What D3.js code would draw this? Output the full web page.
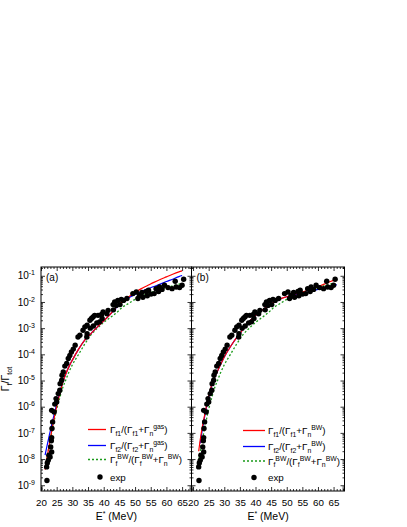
<!DOCTYPE html>
<html><head><meta charset="utf-8">
<script src="https://cdn.jsdelivr.net/npm/d3@7"></script>
<style>body{margin:0;background:#fff} text{font-family:"Liberation Sans",Arial,sans-serif;fill:#000}</style>
</head><body><svg id="c" width="407" height="527"></svg>
<script>
// ---- data ----
const xTickValues = [20,25,30,35,40,45,50,55,60,65];
const yTickExponents = [-9,-8,-7,-6,-5,-4,-3,-2,-1];

// experimental points: [E* (MeV), log10(Gf/Gtot)]
const expData = [[21.9,-8.82],[21.8,-8.3],[22.0,-8.15],[22.3,-8.05],[22.5,-7.85],[22.9,-7.92],[23.4,-7.73],[23.1,-7.54],[23.3,-7.3],[23.4,-7.18],[23.5,-6.83],[23.7,-6.58],[23.4,-6.14],[24.2,-6.2],[24.4,-5.9],[24.8,-5.69],[25.0,-5.82],[25.5,-5.5],[26.0,-5.37],[26.1,-5.12],[26.6,-4.99],[26.7,-4.8],[27.1,-4.67],[27.6,-4.45],[28.2,-4.35],[28.7,-4.16],[29.2,-4.04],[29.7,-3.91],[30.3,-3.8],[30.9,-3.65],[31.8,-3.34],[32.4,-3.27],[33.4,-3.08],[34.0,-2.95],[34.6,-3.34],[34.7,-3.21],[34.7,-2.89],[35.6,-2.7],[35.7,-3.0],[36.1,-2.63],[36.6,-2.57],[36.7,-2.92],[37.1,-2.51],[37.8,-2.8],[38.2,-2.51],[38.7,-2.76],[39.3,-2.48],[39.8,-2.38],[39.5,-2.63],[41.0,-2.45],[41.4,-2.32],[43.0,-2.1],[43.1,-2.3],[43.5,-2.0],[44.0,-2.13],[44.5,-1.94],[45.2,-2.1],[45.6,-1.9],[46.3,-1.94],[47.4,-1.87],[49.3,-1.68],[50.4,-1.62],[50.9,-1.87],[51.4,-1.75],[52.2,-1.64],[52.5,-1.82],[53.6,-1.6],[53.9,-1.76],[54.3,-1.55],[55.1,-1.7],[56.1,-1.68],[56.7,-1.49],[57.5,-1.6],[57.8,-1.43],[58.6,-1.52],[59.4,-1.36],[60.5,-1.45],[61.8,-1.49],[62.8,-1.21],[63.1,-1.43],[64.2,-1.45],[65.0,-1.36],[65.5,-1.13]];

// model curves: [E*, log10 ratio]
const redA = [[21.3,-8.4],[22,-7.9],[23,-7.2],[24,-6.55],[25,-6.0],[26,-5.5],[27,-5.05],[28,-4.72],[29,-4.45],[30,-4.22],[32,-3.8],[34,-3.45],[36,-3.2],[38,-2.95],[40,-2.72],[42,-2.48],[44,-2.2],[46,-1.98],[48,-1.8],[50,-1.63],[52,-1.49],[54,-1.37],[56,-1.25],[58,-1.14],[60,-1.04],[62,-0.94],[64,-0.85],[65,-0.81]];
const blueA = [[21.3,-7.85],[22,-7.45],[23,-6.9],[24,-6.4],[25,-5.9],[26,-5.45],[27,-5.05],[28,-4.72],[29,-4.45],[30,-4.22],[32,-3.8],[34,-3.45],[36,-3.2],[38,-2.95],[40,-2.72],[42,-2.48],[44,-2.22],[46,-2.0],[48,-1.84],[50,-1.71],[52,-1.6],[54,-1.5],[56,-1.41],[58,-1.32],[60,-1.22],[62,-1.13],[64,-1.03],[65,-0.99]];
const greenBW = [[21.5,-8.3],[22,-7.9],[23,-7.25],[24,-6.65],[25,-6.1],[26,-5.65],[27,-5.25],[28,-4.95],[29,-4.65],[30,-4.4],[32,-4.0],[34,-3.6],[36,-3.25],[38,-3.0],[40,-2.78],[42,-2.6],[44,-2.42],[46,-2.2],[48,-2.05],[50,-1.9],[52,-1.78],[54,-1.68],[56,-1.6],[58,-1.52],[60,-1.45],[62,-1.38],[64,-1.32],[65,-1.29]];
const redB = [[21.8,-7.7],[22.5,-7.1],[23,-6.75],[24,-6.15],[25,-5.6],[26,-5.15],[27,-4.85],[28,-4.6],[30,-4.1],[32,-3.7],[34,-3.35],[36,-3.05],[38,-2.75],[40,-2.52],[42,-2.32],[44,-2.15],[46,-2.0],[48,-1.88],[50,-1.8],[52,-1.72],[54,-1.65],[56,-1.58],[58,-1.5],[60,-1.41],[62,-1.32],[64,-1.22],[66,-1.12]];
const blueB = [[22.3,-7.4],[23,-6.85],[24,-6.2],[25,-5.65],[26,-5.18],[27,-4.85],[28,-4.6],[30,-4.1],[32,-3.7],[34,-3.35],[36,-3.05],[38,-2.75],[40,-2.52],[42,-2.32],[44,-2.15],[46,-2.0],[48,-1.88],[50,-1.8],[52,-1.74],[54,-1.7],[56,-1.64],[58,-1.58],[60,-1.52],[62,-1.46],[64,-1.4],[66,-1.34]];

const legendA = [
  [["Γ",""],["f1","sub"],["/(Γ",""],["f1","sub"],["+Γ",""],["n","sub"],["gas","sup"],[")",""]],
  [["Γ",""],["f2","sub"],["/(Γ",""],["f2","sub"],["+Γ",""],["n","sub"],["gas","sup"],[")",""]],
  [["Γ",""],["f","sub"],["BW","sup"],["/(Γ",""],["f","sub"],["BW","sup"],["+Γ",""],["n","sub"],["BW","sup"],[")",""]],
  [["exp",""]]
];
const legendB = [
  [["Γ",""],["f1","sub"],["/(Γ",""],["f1","sub"],["+Γ",""],["n","sub"],["BW","sup"],[")",""]],
  [["Γ",""],["f2","sub"],["/(Γ",""],["f2","sub"],["+Γ",""],["n","sub"],["BW","sup"],[")",""]],
  [["Γ",""],["f","sub"],["BW","sup"],["/(Γ",""],["f","sub"],["BW","sup"],["+Γ",""],["n","sub"],["BW","sup"],[")",""]],
  [["exp",""]]
];

// ---- drawing ----
const svg = d3.select("#c");
const yTop = 267, yBottom = 491;
const y = d3.scaleLog().domain([Math.pow(10,-9.22), Math.pow(10,-0.664)]).range([yBottom, yTop]);
const yMajor = yTickExponents.map(e => Math.pow(10, e));
const yMinor = [];
for (let e = -10; e <= 0; e++) for (let k = 2; k <= 9; k++) {
  const v = k * Math.pow(10, e);
  if (v >= y.domain()[0] && v <= y.domain()[1]) yMinor.push(v);
}

function richText(sel, segs, fs) {
  let state = "";
  const off = { "": 0, sub: 2.8, sup: -4.0 };
  segs.forEach(([t, m]) => {
    const ts = sel.append("tspan").text(t);
    const dy = off[m] - off[state];
    if (dy) ts.attr("dy", dy);
    if (m) ts.attr("font-size", fs * 0.7);
    state = m;
  });
}

function panel(cfg) {
  const x = d3.scaleLinear().domain(cfg.xDomain).range([cfg.left, cfg.right]);
  const g = svg.append("g");
  const clipId = "clip" + cfg.name;
  svg.append("clipPath").attr("id", clipId).append("rect")
    .attr("x", cfg.left).attr("y", yTop).attr("width", cfg.right - cfg.left).attr("height", yBottom - yTop);

  const xMinor = d3.range(Math.ceil(cfg.xDomain[0]), cfg.xDomain[1] + 0.001, 1).filter(v => v % 5 !== 0);
  const xMaj = xTickValues.slice();

  // bottom
  g.append("g").attr("transform", `translate(0,${yBottom})`)
    .call(d3.axisBottom(x).tickValues(xTickValues).tickSize(-4).tickSizeOuter(0).tickPadding(8))
    .call(s => s.selectAll("text").attr("font-size", 9.8).attr("font-family", "Liberation Sans, Arial"));
  g.append("g").attr("transform", `translate(0,${yBottom})`)
    .call(d3.axisBottom(x).tickValues(xMinor).tickSize(-2).tickSizeOuter(0).tickFormat(""));
  // top
  g.append("g").attr("transform", `translate(0,${yTop})`)
    .call(d3.axisTop(x).tickValues(xMaj).tickSize(-4).tickSizeOuter(0).tickFormat(""));
  g.append("g").attr("transform", `translate(0,${yTop})`)
    .call(d3.axisTop(x).tickValues(xMinor).tickSize(-2).tickSizeOuter(0).tickFormat(""));
  // left
  const la = g.append("g").attr("transform", `translate(${cfg.left},0)`)
    .call(d3.axisLeft(y).tickValues(yMajor).tickSize(-4).tickSizeOuter(0).tickPadding(6));
  g.append("g").attr("transform", `translate(${cfg.left},0)`)
    .call(d3.axisLeft(y).tickValues(yMinor).tickSize(-2).tickSizeOuter(0).tickFormat(""));
  if (cfg.yLabels) {
    la.selectAll(".tick text").each(function(d) {
      const t = d3.select(this).text("").attr("font-size", 10).attr("font-family", "Liberation Sans, Arial");
      t.append("tspan").text("10");
      t.append("tspan").attr("dy", -4).attr("font-size", 7).text(String(Math.round(Math.log10(d))));
    });
  } else {
    la.selectAll(".tick text").remove();
  }
  // right
  g.append("g").attr("transform", `translate(${cfg.right},0)`)
    .call(d3.axisRight(y).tickValues(yMajor).tickSize(-4).tickSizeOuter(0).tickFormat(""));
  g.append("g").attr("transform", `translate(${cfg.right},0)`)
    .call(d3.axisRight(y).tickValues(yMinor).tickSize(-2).tickSizeOuter(0).tickFormat(""));
  g.selectAll(".domain").remove();
  g.selectAll(".tick line").attr("stroke", "#000").attr("stroke-width", 0.8);

  g.append("rect").attr("x", cfg.left).attr("y", yTop).attr("width", cfg.right - cfg.left)
    .attr("height", yBottom - yTop).attr("fill", "none").attr("stroke", "#000").attr("stroke-width", 1);

  const line = d3.line().x(d => x(d[0])).y(d => y(Math.pow(10, d[1]))).curve(d3.curveMonotoneX);
  const plot = g.append("g").attr("clip-path", `url(#${clipId})`);
  plot.append("path").datum(greenBW).attr("d", line).attr("fill", "none")
    .attr("stroke", "#1a9a1a").attr("stroke-width", 1.3).attr("stroke-dasharray", "2,2");
  plot.append("path").datum(cfg.blue).attr("d", line).attr("fill", "none")
    .attr("stroke", "#0000ff").attr("stroke-width", 1.2);
  plot.append("path").datum(cfg.red).attr("d", line).attr("fill", "none")
    .attr("stroke", "#ff0000").attr("stroke-width", 1.2);
  plot.selectAll("circle").data(expData).join("circle")
    .attr("cx", d => x(d[0])).attr("cy", d => y(Math.pow(10, d[1]))).attr("r", 2.7).attr("fill", "#000");

  // panel label
  g.append("text").attr("x", cfg.left + 5).attr("y", 281).attr("font-size", 10).text(cfg.tag);

  // legend
  const L = cfg.leg;
  const styles = [["#ff0000", null], ["#0000ff", null], ["#1a9a1a", "2,2"]];
  styles.forEach((st, i) => {
    g.append("line").attr("x1", L.x1).attr("x2", L.x2).attr("y1", L.rows[i]).attr("y2", L.rows[i])
      .attr("stroke", st[0]).attr("stroke-width", 1.3).attr("stroke-dasharray", st[1]);
  });
  g.append("circle").attr("cx", L.dotX).attr("cy", L.rows[3]).attr("r", 2.7).attr("fill", "#000");
  cfg.legend.forEach((segs, i) => {
    const t = g.append("text").attr("x", L.tx).attr("y", L.rows[i] + 3.5).attr("font-size", 9.8);
    richText(t, segs, 9.8);
  });

  // x title
  const xt = g.append("text").attr("x", (cfg.left + cfg.right) / 2).attr("y", 520)
    .attr("text-anchor", "middle").attr("font-size", 10.5);
  xt.append("tspan").text("E");
  xt.append("tspan").attr("dy", -4).attr("font-size", 7).text("*");
  xt.append("tspan").attr("dy", 4).text(" (MeV)");
}

panel({ name: "a", tag: "(a)", left: 41, right: 191.5, xDomain: [20, 68], yLabels: true,
  red: redA, blue: blueA, legend: legendA,
  leg: { x1: 88, x2: 106, tx: 110, dotX: 100, rows: [429.5, 445.5, 459.5, 477] } });
panel({ name: "b", tag: "(b)", left: 191.5, right: 344.5, xDomain: [19.5, 68.5], yLabels: false,
  red: redB, blue: blueB, legend: legendB,
  leg: { x1: 243, x2: 265, tx: 268, dotX: 254, rows: [430.5, 446.5, 461, 477.5] } });

// y title
const yt = svg.append("text").attr("transform", "translate(9,379) rotate(-90)")
  .attr("text-anchor", "middle").attr("font-size", 10.5);
yt.append("tspan").text("Γ");
yt.append("tspan").attr("dy", 2.6).attr("font-size", 7).text("f");
yt.append("tspan").attr("dy", -2.6).text("/Γ");
yt.append("tspan").attr("dy", 2.6).attr("font-size", 7).text("tot");
</script>
</body></html>
